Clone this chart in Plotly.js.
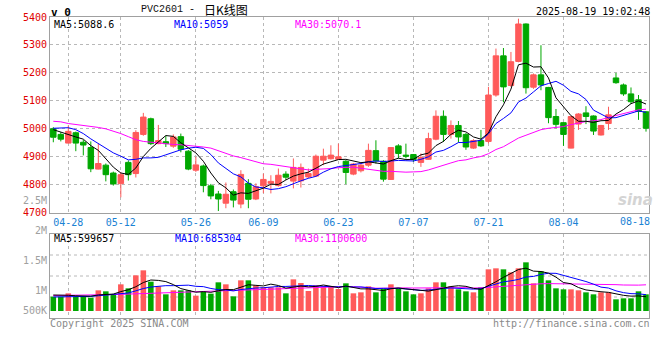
<!DOCTYPE html>
<html><head><meta charset="utf-8">
<script src="https://cdn.plot.ly/plotly-3.0.1.min.js"></script>
<style>html,body{margin:0;padding:0;background:#fff}#chart{width:660px;height:360px}</style>
</head><body><div id="chart"></div>
<script>
// ---------- data ----------
const dates = ['04-24','04-25','04-28','04-29','04-30','05-06','05-07','05-08','05-09','05-12',
'05-13','05-14','05-15','05-16','05-19','05-20','05-21','05-22','05-23','05-26',
'05-27','05-28','05-29','05-30','06-03','06-04','06-05','06-06','06-09','06-10',
'06-11','06-12','06-13','06-16','06-17','06-18','06-19','06-20','06-23','06-24',
'06-25','06-26','06-27','06-30','07-01','07-02','07-03','07-04','07-07','07-08',
'07-09','07-10','07-11','07-14','07-15','07-16','07-17','07-18','07-21','07-22',
'07-23','07-24','07-25','07-28','07-29','07-30','07-31','08-01','08-04','08-05',
'08-06','08-07','08-08','08-11','08-12','08-13','08-14','08-15','08-18','08-19'];

const open = [5000,4980,4949,4986,4952,4933,4856,4870,4842,4804,
4880,4840,4980,5036,4947,4954,4938,4972,4920,4852,
4867,4796,4767,4734,4775,4731,4805,4749,4796,4805,
4797,4838,4813,4814,4828,4831,4888,4893,4891,4884,
4838,4850,4870,4922,4884,4819,4939,4906,4908,4880,
4891,4963,5045,4980,5012,4980,4931,4958,4955,5121,
5261,5155,5241,5375,5149,5193,5148,5044,5022,4931,
5017,5057,5046,4978,5019,5182,5157,5125,5104,5061];

const high = [5006,4988,5012,4990,4960,4955,4947,4876,4847,4845,
4887,4995,5057,5040,5014,4975,4980,4983,4924,4900,
4872,4803,4778,4808,4783,4852,4820,4805,4840,4834,
4858,4848,4894,4876,4858,4908,4929,4941,4947,4888,
4878,4876,4947,4959,4888,4935,4945,4947,4910,4912,
4986,5066,5066,5030,5028,4985,4963,4996,5150,5287,
5289,5275,5394,5377,5198,5299,5150,5071,5024,5046,
5056,5081,5048,5014,5079,5200,5162,5148,5121,5063];

const low = [4952,4955,4948,4920,4905,4845,4855,4812,4797,4755,
4815,4826,4975,4942,4945,4935,4932,4916,4852,4846,
4773,4748,4706,4716,4719,4716,4716,4745,4770,4769,
4793,4817,4787,4790,4823,4828,4870,4890,4891,4802,
4834,4844,4864,4876,4811,4817,4894,4894,4882,4864,
4889,4959,4953,4965,4951,4925,4928,4935,4948,5115,
5095,5150,5238,5126,5143,5138,5020,5002,4939,4930,
4996,5017,4978,4976,4996,5161,5118,5089,5032,4990];

const close = [4970,4963,4991,4949,4942,4857,4876,4836,4803,4836,
4836,4987,5042,4947,4958,4947,4971,4927,4856,4871,
4797,4760,4749,4766,4745,4837,4748,4793,4819,4812,
4834,4827,4862,4862,4840,4902,4902,4906,4900,4844,
4874,4870,4923,4885,4820,4933,4912,4902,4890,4897,
4965,5045,4980,5012,4971,4935,4958,4939,5121,5261,
5150,5240,5375,5147,5193,5157,5040,5016,4980,5044,
5053,5044,4992,5012,5050,5165,5125,5097,5062,5002];

const ma5 = [4997,4988,4978,4971,4963,4940,4923,4892,4863,4842,
4837,4860,4901,4930,4954,4976,4973,4950,4932,4914,
4884,4842,4807,4789,4763,4771,4769,4778,4788,4802,
4801,4817,4831,4839,4845,4859,4874,4882,4890,4891,
4885,4879,4882,4879,4874,4886,4895,4890,4891,4907,
4913,4940,4955,4980,4995,4989,4971,4963,4985,5043,
5086,5142,5229,5235,5221,5222,5182,5111,5077,5047,
5027,5027,5023,5029,5030,5053,5069,5090,5100,5088.6];

const ma10 = [5002,5004,5004,4997,4983,4964,4948,4932,4914,4902,
4889,4891,4896,4896,4898,4907,4916,4925,4931,4934,
4930,4908,4878,4860,4839,4828,4806,4792,4789,4783,
4786,4793,4804,4814,4823,4830,4845,4857,4865,4868,
4872,4876,4882,4885,4883,4886,4887,4886,4885,4891,
4900,4917,4923,4936,4951,4951,4956,4959,4982,5019,
5037,5057,5096,5110,5132,5154,5162,5170,5156,5134,
5125,5105,5067,5053,5039,5040,5048,5056,5064,5059];

const ma30 = [5027,5025,5019,5016,5013,5009,5005,5000,4992,4983,
4972,4961,4955,4952,4950,4946,4944,4943,4941,4939,
4935,4931,4921,4911,4903,4897,4890,4882,4875,4873,
4869,4864,4860,4857,4853,4855,4856,4858,4861,4862,
4863,4859,4855,4853,4848,4848,4846,4845,4846,4847,
4853,4862,4870,4878,4886,4889,4896,4901,4911,4926,
4936,4950,4967,4977,4988,4997,5002,5005,5008,5015,
5021,5026,5029,5033,5041,5048,5055,5062,5068,5070.1];

const volume = [602000,602000,742000,602000,602000,560000,868000,826000,700000,1120000,
952000,1498000,1708000,1232000,1036000,700000,868000,868000,868000,644000,
812000,728000,1204000,1120000,616000,1288000,1288000,1078000,994000,994000,
994000,742000,1330000,1176000,840000,1078000,1036000,1036000,924000,1162000,
742000,784000,1036000,784000,952000,1120000,952000,826000,700000,742000,
952000,1204000,1204000,1036000,910000,826000,784000,994000,1750000,1792000,
1750000,1624000,1792000,2044000,1162000,1666000,1288000,952000,910000,910000,
868000,784000,700000,784000,784000,490000,532000,532000,826000,700000];

const volMa5 = [672000,672000,660000,640000,630000,622000,675000,692000,711000,815000,
893000,1019000,1196000,1302000,1285000,1235000,1109000,941000,868000,790000,
812000,784000,851000,902000,896000,991000,1103000,1078000,1053000,1128000,
1070000,960000,1011000,1047000,1016000,1033000,1092000,1033000,983000,1047000,
980000,930000,930000,902000,860000,935000,969000,927000,910000,868000,
834000,885000,960000,1028000,1061000,1036000,952000,910000,1053000,1229000,
1414000,1582000,1742000,1800000,1674000,1658000,1590000,1422000,1196000,1145000,
986000,885000,834000,809000,784000,708000,658000,624000,633000,599657];

const volMa10 = [590000,590000,595000,600000,605000,615000,640000,670000,700000,722000,
757000,847000,944000,1007000,1050000,1064000,1064000,1068000,1085000,1037000,
1023000,946000,896000,885000,843000,902000,944000,965000,977000,1012000,
1030000,1032000,1044000,1050000,1072000,1051000,1026000,1022000,1015000,1032000,
1007000,1011000,981000,942000,953000,958000,949000,928000,906000,864000,
885000,927000,944000,969000,965000,935000,918000,935000,1040000,1145000,
1225000,1267000,1326000,1427000,1452000,1536000,1586000,1582000,1498000,1410000,
1322000,1238000,1128000,1002000,965000,847000,771000,729000,721000,685304];

const volMa30 = [650000,652000,655000,660000,665000,670000,676000,682000,690000,700000,
712000,725000,740000,752000,762000,775000,785000,795000,808000,818000,
828000,840000,850000,860000,870000,880000,890000,900000,912000,924000,
937000,942000,961000,980000,988000,1006000,1011000,1018000,1026000,1027000,
1020000,996000,974000,959000,956000,970000,973000,972000,966000,969000,
974000,990000,990000,987000,997000,981000,965000,962000,987000,1014000,
1039000,1068000,1084000,1113000,1123000,1143000,1151000,1148000,1148000,1140000,
1144000,1144000,1133000,1133000,1127000,1106000,1092000,1082000,1086000,1100600];

const tickDates = ['04-28','05-12','05-26','06-09','06-23','07-07','07-21','08-04'];
const lastDateLabel = '08-18';
const volLabels = ['2.5M','2M','1.5M','1M','500K'];
const titleCode = 'PVC2601 -';
const titleName = '日K线图';
const stamp = '2025-08-19 19:02:48';

// ---------- styling ----------
const UP = '#ff5a5a', DOWN = '#00a800';
const C5 = '#000000', C10 = '#0000ff', C30 = '#ff00ff';
const GRID = '#b8b8b8', FRAME = '#a0a0a0';
const MONO = 'DejaVu Sans Mono, Liberation Mono, monospace';

const xIdx = dates.map((d, i) => i);
const tickIdx = tickDates.map(d => dates.indexOf(d));
const last = a => a[a.length - 1];
const volColors = close.map((c, i) => c >= open[i] ? UP : DOWN);

// pixel -> paper helpers (plot area: x 50..649, y 17..318)
const L = 50, R = 11, T = 17, B = 42, W = 660, H = 360;
const PW = W - L - R, PH = H - T - B;
const px = x => (x - L) / PW;
const py = y => (H - B - y) / PH;

function txt(text, x, y, anchor, color, opts) {
  opts = opts || {};
  return {
    xref: 'paper', yref: 'paper', x: px(x), y: py(y), text: text,
    xanchor: anchor, yanchor: 'middle', showarrow: false,
    borderpad: 0, borderwidth: 0,
    font: Object.assign({family: MONO, size: 10, color: color}, opts.font || {})
  };
}

const traces = [
  {type: 'candlestick', x: xIdx, open: open, high: high, low: low, close: close,
   xaxis: 'x', yaxis: 'y', whiskerwidth: 0, hoverinfo: 'skip',
   increasing: {line: {color: UP, width: 1}, fillcolor: UP},
   decreasing: {line: {color: DOWN, width: 1}, fillcolor: DOWN}},
  {type: 'scatter', mode: 'lines', x: xIdx, y: ma30, xaxis: 'x', yaxis: 'y', line: {color: C30, width: 1}, hoverinfo: 'skip'},
  {type: 'scatter', mode: 'lines', x: xIdx, y: ma10, xaxis: 'x', yaxis: 'y', line: {color: C10, width: 1}, hoverinfo: 'skip'},
  {type: 'scatter', mode: 'lines', x: xIdx, y: ma5, xaxis: 'x', yaxis: 'y', line: {color: C5, width: 1}, hoverinfo: 'skip'},
  {type: 'bar', x: xIdx, y: volume, xaxis: 'x2', yaxis: 'y2', width: 0.74,
   marker: {color: volColors, line: {width: 0}}, hoverinfo: 'skip'},
  {type: 'scatter', mode: 'lines', x: xIdx, y: volMa30, xaxis: 'x2', yaxis: 'y2', line: {color: C30, width: 1}, hoverinfo: 'skip'},
  {type: 'scatter', mode: 'lines', x: xIdx, y: volMa10, xaxis: 'x2', yaxis: 'y2', line: {color: C10, width: 1}, hoverinfo: 'skip'},
  {type: 'scatter', mode: 'lines', x: xIdx, y: volMa5, xaxis: 'x2', yaxis: 'y2', line: {color: C5, width: 1}, hoverinfo: 'skip'}
];

const xRange = [-0.44, 79.4];
const axisCommon = {showline: true, mirror: true, linecolor: FRAME, linewidth: 1,
  zeroline: false, fixedrange: true, ticks: ''};

const annotations = [
  txt('<b>v 0</b>', 50.5, 12, 'left', '#000', {font: {size: 11}}),
  txt(titleCode, 140.5, 10, 'left', '#111', {font: {family: 'Liberation Mono, monospace', size: 10}}),
  txt(titleName, 204, 10, 'left', '#000', {font: {family: 'Noto Sans CJK SC', size: 12}}),
  txt(stamp, 649.5, 11, 'right', '#000'),
  txt('MA5:' + last(ma5), 54, 24, 'left', C5),
  txt('MA10:' + last(ma10), 174, 24, 'left', C10),
  txt('MA30:' + last(ma30), 295, 24, 'left', C30),
  txt('MA5:' + last(volMa5), 54, 238.5, 'left', C5),
  txt('MA10:' + last(volMa10), 174.5, 238.5, 'left', C10),
  txt('MA30:' + last(volMa30), 295, 238.5, 'left', C30),
  txt(volLabels[0], 46.5, 200.3, 'right', '#a0a0a0'),
  txt(volLabels[1], 46.5, 230.7, 'right', '#a0a0a0'),
  txt(volLabels[2], 46.5, 260.8, 'right', '#a0a0a0'),
  txt(volLabels[3], 46.5, 290.5, 'right', '#a0a0a0'),
  txt(volLabels[4], 46.5, 310.7, 'right', '#a0a0a0'),
  txt(lastDateLabel, 649.5, 221.5, 'right', '#1a82d4'),
  txt('Copyright 2025 SINA.COM', 50, 323.5, 'left', '#8a8a8a'),
  txt('http://finance.sina.com.cn', 649.5, 323.5, 'right', '#8a8a8a'),
  txt('<b><i>sina</i></b>', 635, 200, 'center', '#d4d4d4', {font: {family: 'DejaVu Sans', size: 15}})
];

const layout = {
  width: W, height: H,
  margin: {l: L, r: R, t: T, b: B, pad: 0},
  paper_bgcolor: '#ffffff', plot_bgcolor: '#ffffff',
  showlegend: false,
  boxgap: 0.27, boxgroupgap: 0,
  font: {family: MONO, size: 10, color: '#000'},
  xaxis: Object.assign({}, axisCommon, {
    domain: [0, 1], anchor: 'y', range: xRange,
    tickmode: 'array', tickvals: tickIdx, ticktext: tickDates,
    tickfont: {family: MONO, size: 10, color: '#1a82d4'},
    showgrid: true, gridcolor: GRID, griddash: 'dot', gridwidth: 1,
    rangeslider: {visible: false}
  }),
  yaxis: Object.assign({}, axisCommon, {
    domain: [py(212.7), 1], anchor: 'x', range: [4700, 5400],
    tickmode: 'linear', tick0: 4700, dtick: 100,
    tickfont: {family: MONO, size: 10, color: '#e00000'},
    showgrid: true, gridcolor: GRID, griddash: 'dot', gridwidth: 1
  }),
  xaxis2: Object.assign({}, axisCommon, {
    domain: [0, 1], anchor: 'y2', range: xRange, matches: 'x',
    tickmode: 'array', tickvals: tickIdx, showticklabels: false,
    showgrid: true, gridcolor: GRID, griddash: 'dot', gridwidth: 1
  }),
  yaxis2: Object.assign({}, axisCommon, {
    domain: [0, py(234)], anchor: 'x2', range: [-294000, 3234000],
    showticklabels: false, showgrid: false
  }),
  shapes: [0.25, 0.5, 0.75].map(f => ({
    type: 'line', xref: 'x2 domain', yref: 'y2 domain', x0: 0, x1: 1, y0: f, y1: f,
    line: {color: GRID, width: 1, dash: 'dot'}, layer: 'below'
  })),
  annotations: annotations
};

Plotly.newPlot('chart', traces, layout, {staticPlot: true, displayModeBar: false});
</script>
</body></html>
